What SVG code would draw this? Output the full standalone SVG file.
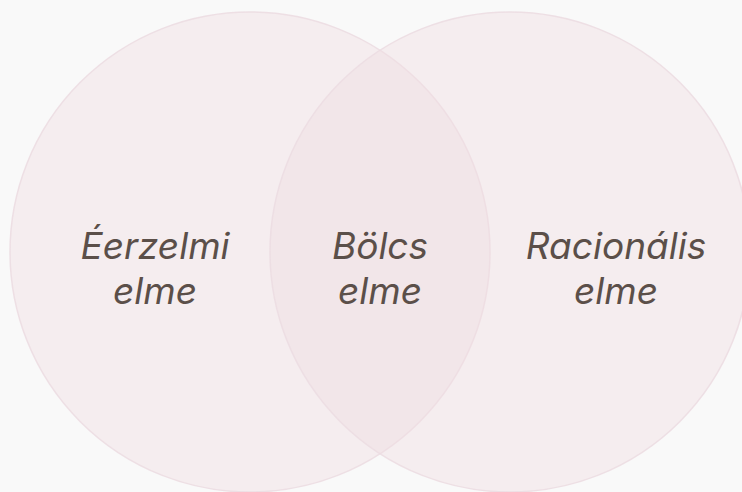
<svg xmlns="http://www.w3.org/2000/svg" width="742" height="492" viewBox="0 0 742 492">
  <defs>
    <style>
      .set { fill: #efdde3; fill-opacity: 0.45; stroke: #ecdde2; stroke-opacity: 0.9; stroke-width: 1.5; }
      .lbl { font-family: Inter, "Open Sans", "Liberation Sans", sans-serif; font-style: italic; font-weight: 400; font-size: 37px; fill: #5b4f49; text-anchor: middle; }
    </style>
  </defs>
  <rect width="742" height="492" fill="#f9f9f9"/>
  <g id="left-circle">
    <circle class="set" cx="250" cy="252" r="240"/>
    <text class="lbl" x="155" y="259">Éerzelmi</text>
    <text class="lbl" x="155" y="304">elme</text>
  </g>
  <g id="right-circle">
    <circle class="set" cx="510" cy="252" r="240"/>
    <text class="lbl" x="616" y="259">Racionális</text>
    <text class="lbl" x="616" y="304">elme</text>
  </g>
  <g id="overlap">
    <text class="lbl" x="380" y="259">Bölcs</text>
    <text class="lbl" x="380" y="304">elme</text>
  </g>
  <g id="connectors"/>
</svg>
